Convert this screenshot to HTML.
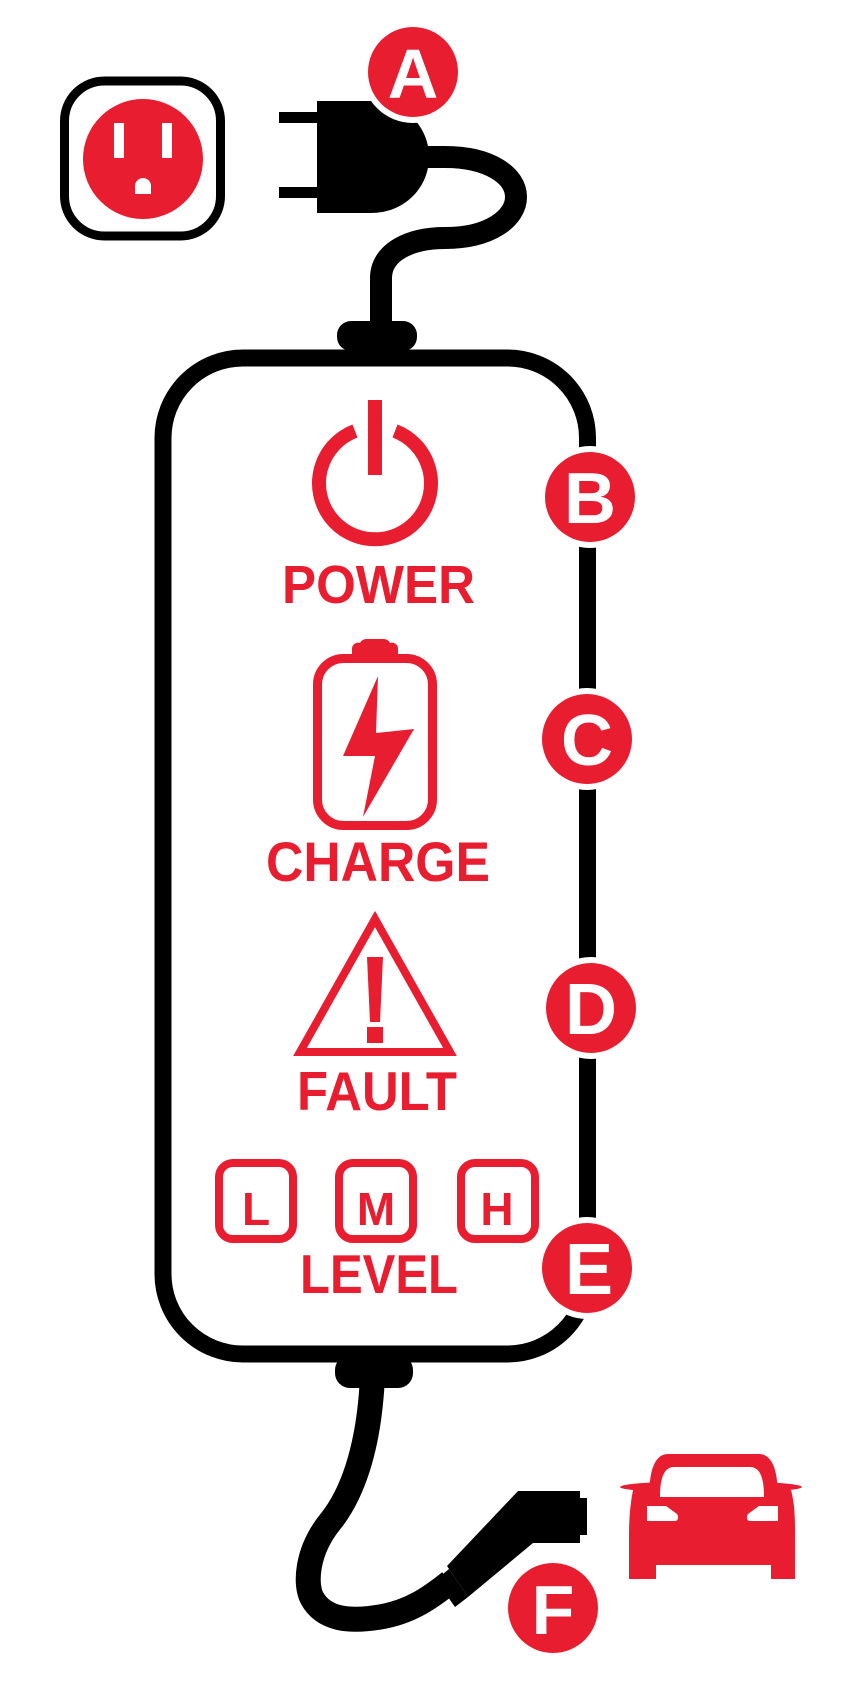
<!DOCTYPE html>
<html><head><meta charset="utf-8"><style>
html,body{margin:0;padding:0;background:#fff;}
svg{display:block;}
text{font-family:"Liberation Sans",sans-serif;font-weight:bold;}
</style></head><body>
<svg width="858" height="1698" viewBox="0 0 858 1698" xmlns="http://www.w3.org/2000/svg">
<!-- outlet -->
<rect x="64.5" y="81" width="156" height="155" rx="40" fill="none" stroke="#000" stroke-width="9"/>
<circle cx="143" cy="159" r="60" fill="#E81E30"/>
<rect x="114" y="123" width="10" height="35" fill="#fff"/>
<rect x="162" y="123" width="10" height="35" fill="#fff"/>
<path d="M135,194 V186 A8,8 0 0 1 151,186 V194 Z" fill="#fff"/>
<!-- plug -->
<rect x="279" y="112" width="42" height="11" fill="#000"/>
<rect x="279" y="187" width="42" height="11" fill="#000"/>
<path d="M317,101 H371 C404,101 429,126 429,157 C429,188 404,213 371,213 H317 Z" fill="#000"/>
<path d="M425,157 H445 C490,157 516,176 516,197 C516,218 490,238 445,238 C410,238 381,252 381,278 V330" fill="none" stroke="#000" stroke-width="22"/>
<rect x="337" y="321" width="80" height="30" rx="14" fill="#000"/>
<circle cx="413" cy="72" r="51" fill="#fff"/>
<circle cx="413" cy="72" r="45" fill="#E81E30"/>
<text x="413" y="98" font-size="70" fill="#fff" text-anchor="middle">A</text>
<!-- main box -->
<rect x="163" y="358" width="424.5" height="996" rx="80" fill="none" stroke="#000" stroke-width="17"/>
<!-- bottom knob and cord -->
<rect x="335" y="1355" width="78" height="33" rx="15" fill="#000"/>
<path d="M372,1385 C368,1450 352,1495 330,1522 C306,1552 305,1585 312,1598 C324,1620 350,1622 380,1617 C410,1612 430,1598 450,1582" fill="none" stroke="#000" stroke-width="25"/>
<path d="M518,1491 H580 V1498 H587 V1535 H580 V1543 H533 L468,1597 L447,1566 Z" fill="#000"/>
<path d="M449,1569 L468,1597 L455,1607 L436,1580 Z" fill="#000"/>
<!-- power -->
<path d="M355,431 A56,56 0 1 0 395,431" fill="none" stroke="#E81E30" stroke-width="14"/>
<rect x="368" y="400" width="14" height="75" fill="#E81E30"/>
<text x="282" y="603" font-size="54" fill="#E81E30" textLength="193" lengthAdjust="spacingAndGlyphs">POWER</text>
<!-- battery -->
<rect x="317.5" y="658.5" width="115" height="167" rx="26" fill="none" stroke="#E81E30" stroke-width="9"/>
<path d="M352,656 V649 A6,6 0 0 1 360,643 A7,7 0 0 1 366,639 H384 A7,7 0 0 1 390,643 A6,6 0 0 1 398,649 V656 Z" fill="#E81E30"/>
<polygon points="378,676 343,756 375,756 363,817 414,729 376,733" fill="#E81E30"/>
<text x="266" y="881" font-size="56" fill="#E81E30" textLength="224" lengthAdjust="spacingAndGlyphs">CHARGE</text>
<!-- fault -->
<polygon points="375,919 300,1052 450,1052" fill="none" stroke="#E81E30" stroke-width="8" stroke-linejoin="miter"/>
<polygon points="367,957 383,957 380,1022 370,1022" fill="#E81E30"/>
<rect x="367" y="1027" width="16" height="16" fill="#E81E30"/>
<text x="297" y="1110" font-size="55" fill="#E81E30" textLength="160" lengthAdjust="spacingAndGlyphs">FAULT</text>
<!-- level -->
<rect x="219" y="1163" width="74" height="76" rx="14" fill="none" stroke="#E81E30" stroke-width="8"/>
<rect x="339" y="1163" width="74" height="76" rx="14" fill="none" stroke="#E81E30" stroke-width="8"/>
<rect x="461" y="1163" width="74" height="76" rx="14" fill="none" stroke="#E81E30" stroke-width="8"/>
<text x="256" y="1225" font-size="46" fill="#E81E30" text-anchor="middle">L</text>
<text x="376" y="1225" font-size="46" fill="#E81E30" text-anchor="middle">M</text>
<text x="497" y="1225" font-size="46" fill="#E81E30" text-anchor="middle">H</text>
<text x="300" y="1293" font-size="55" fill="#E81E30" textLength="158" lengthAdjust="spacingAndGlyphs">LEVEL</text>
<!-- side markers -->
<g>
<circle cx="590" cy="497" r="51" fill="#fff"/><circle cx="590" cy="497" r="45" fill="#E81E30"/>
<text x="590" y="523" font-size="72" fill="#fff" text-anchor="middle">B</text>
<circle cx="587" cy="739" r="51" fill="#fff"/><circle cx="587" cy="739" r="45" fill="#E81E30"/>
<text x="587" y="765" font-size="72" fill="#fff" text-anchor="middle">C</text>
<circle cx="591" cy="1008" r="51" fill="#fff"/><circle cx="591" cy="1008" r="45" fill="#E81E30"/>
<text x="591" y="1034" font-size="72" fill="#fff" text-anchor="middle">D</text>
<circle cx="587" cy="1268" r="51" fill="#fff"/><circle cx="587" cy="1268" r="45" fill="#E81E30"/>
<text x="589" y="1294" font-size="72" fill="#fff" text-anchor="middle">E</text>
</g>
<!-- F -->
<circle cx="553" cy="1608" r="45" fill="#E81E30"/>
<text x="553" y="1634" font-size="70" fill="#fff" text-anchor="middle">F</text>
<!-- car -->
<g transform="translate(12,0)">
<path d="M638,1481 C640,1462 647,1454 656,1454 H747 C756,1454 763,1462 765,1481 Z" fill="#E81E30"/>
<ellipse cx="699" cy="1487" rx="91" ry="6" fill="#E81E30"/>
<path d="M621,1490 H779 C783,1505 783,1520 783,1535 V1579 H759 V1565 H644 V1579 H617 V1535 C617,1520 618,1505 621,1490 Z" fill="#E81E30"/>
<path d="M638,1481 H765 L767,1492 H636 Z" fill="#E81E30"/>
<path d="M648,1497 C648,1478 652,1467 662,1467 H738 C748,1467 752,1478 752,1497 Z" fill="#fff"/>
<path d="M635,1506 H654 L665,1514 C667,1517 666,1521 663,1521 H635 Z" fill="#fff"/>
<path d="M766,1506 H747 L736,1514 C734,1517 735,1521 738,1521 H766 Z" fill="#fff"/>
</g>
</svg>
</body></html>
